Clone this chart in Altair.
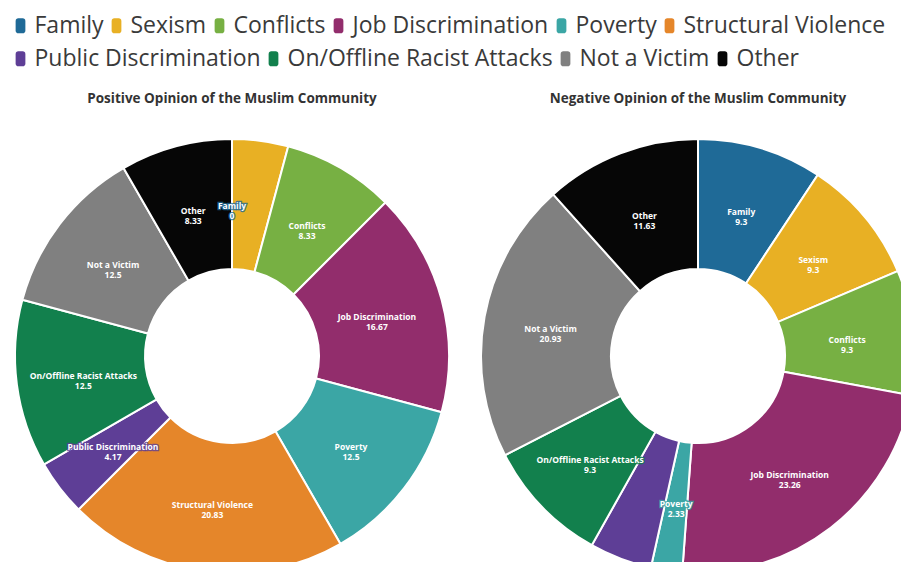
import altair as alt
import pandas as pd

categories = ["Family", "Sexism", "Conflicts", "Job Discrimination", "Poverty",
              "Structural Violence", "Public Discrimination",
              "On/Offline Racist Attacks", "Not a Victim", "Other"]
colors = ["#1f6a97", "#e8b024", "#77b043", "#922d6c", "#3ba6a5",
          "#e5862a", "#5e3e96", "#12804d", "#808080", "#060606"]
legend_row1 = categories[:6]
legend_row2 = categories[6:]
positive_values = [0, 4.17, 8.33, 16.67, 12.5, 20.83, 4.17, 12.5, 12.5, 8.33]
negative_values = [9.3, 9.3, 9.3, 23.26, 2.33, None, 4.65, 9.3, 20.93, 11.63]
# labels shown on slices (Sexism in positive and Public Discrimination in negative are unlabeled)
positive_show = [True, False, True, True, True, True, True, True, True, True]
negative_show = [True, True, True, True, True, False, False, True, True, True]


def make_df(values, show):
    rows = []
    for i, (c, v, s) in enumerate(zip(categories, values, show)):
        if v is None:
            continue
        rows.append({"category": c, "value": v, "idx": i,
                     "label": (c + "\n" + ("%g" % v)) if s else ""})
    return pd.DataFrame(rows)


# same colours, domain listed in a different order so the two legends stay separate
color_scale = alt.Scale(domain=categories, range=colors)
fill_scale = alt.Scale(domain=legend_row2 + legend_row1, range=colors[6:] + colors[:6])
symbol_path = ("M-0.3,-1 H0.3 A0.35,0.35 0 0 1 0.65,-0.65 V0.65 A0.35,0.35 0 0 1 0.3,1 "
               "H-0.3 A0.35,0.35 0 0 1 -0.65,0.65 V-0.65 A0.35,0.35 0 0 1 -0.3,-1 Z")

CX, CY = 220, 218
R_IN, R_OUT = 87, 217
R_LAB = 150


def legend_for(values, y):
    return alt.Legend(title=None, orient="none", legendX=-3, legendY=y,
                      direction="horizontal", values=values,
                      symbolType=symbol_path, symbolSize=225,
                      symbolStrokeWidth=0, symbolOpacity=1,
                      labelFont="Open Sans", labelFontSize=23,
                      labelColor="#3a3a3a", labelOffset=2.5,
                      columnPadding=1, labelLimit=400, padding=0)


def donut(values, show, title, width, title_dx, with_legend):
    df = make_df(values, show)
    base = alt.Chart(df).encode(
        theta=alt.Theta("value:Q", stack=True),
        order=alt.Order("idx:Q", sort="ascending"),
        x=alt.value(CX), y=alt.value(CY),
    )
    arcs = base.mark_arc(innerRadius=R_IN, outerRadius=R_OUT, stroke="white",
                         strokeWidth=2).encode(
        color=alt.Color("category:N", scale=color_scale, sort=categories,
                        legend=legend_for(legend_row1, -124) if with_legend else None)
    )
    halo = base.mark_text(radius=R_LAB, font="Open Sans", fontSize=8.5, fontWeight="bold",
                          lineBreak="\n", lineHeight=10, strokeWidth=2.5,
                          strokeOpacity=0.8, baseline="middle").encode(
        text="label:N",
        stroke=alt.Stroke("category:N", scale=color_scale, legend=None),
        fill=alt.Fill("category:N", scale=fill_scale, sort=categories,
                      legend=legend_for(legend_row2, -91) if with_legend else None),
    )
    labels = base.mark_text(radius=R_LAB, font="Open Sans", fontSize=8.5, fontWeight="bold",
                            lineBreak="\n", lineHeight=10, color="white",
                            baseline="middle").encode(text="label:N")
    return alt.layer(arcs, halo, labels).properties(
        width=width, height=414,
        title=alt.TitleParams(title, font="Open Sans", fontSize=13.5, fontWeight="bold",
                              color="#333333", anchor="middle", dx=title_dx, offset=30),
    )


left = donut(positive_values, positive_show, "Positive Opinion of the Muslim Community",
             440, 0, True)
right = donut(negative_values, negative_show, "Negative Opinion of the Muslim Community",
              423, 8.5, False)

# fixed-size canvas (893 x 546 inside the page margin); the donuts are cropped at its edges
chart = alt.hconcat(left, right, spacing=26, bounds="flush").properties(
    autosize=alt.AutoSizeParams(type="none"),
    padding={"left": 4, "top": 130, "right": 889, "bottom": 416},
).configure_view(stroke=None)

chart.save("out.html", embed_options={"renderer": "svg", "actions": False})
